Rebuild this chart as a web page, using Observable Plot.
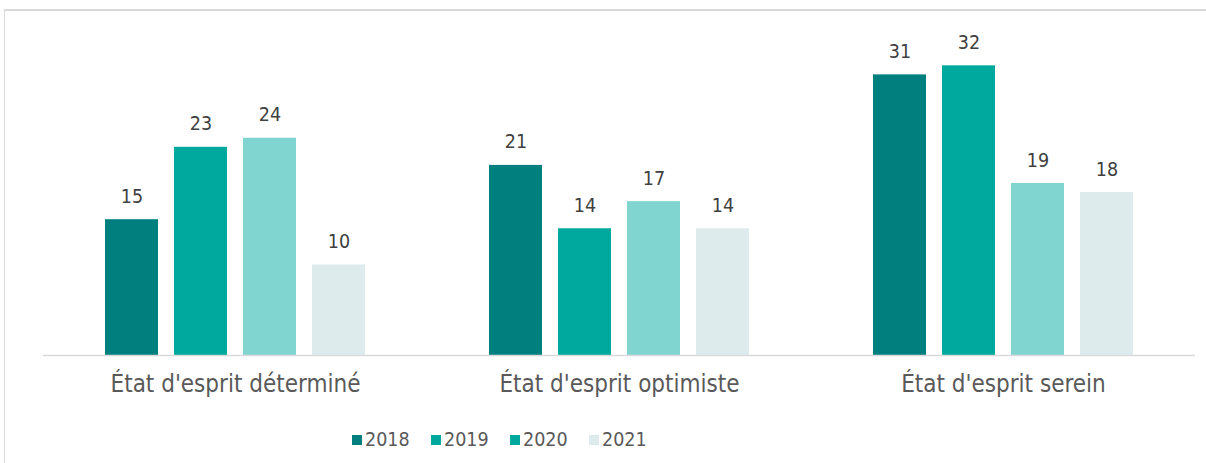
<!DOCTYPE html>
<html>
<head>
<meta charset="utf-8">
<script src="https://cdn.jsdelivr.net/npm/d3@7"></script>
<script src="https://cdn.jsdelivr.net/npm/@observablehq/plot@0.6"></script>
<style>
  html, body { margin: 0; padding: 0; background: #fff; width: 1206px; height: 463px; overflow: hidden; }
  #frame { position: absolute; left: 4px; top: 9px; width: 1220px; height: 470px; border-top: 2px solid #d9d9d9; border-left: 1px solid #d9d9d9; box-sizing: border-box; }
  #chart { position: absolute; left: 0; top: 0; }
  #legend { position: absolute; top: 428px; left: 352px; display: flex; font-family: "DejaVu Sans Condensed", "DejaVu Sans", sans-serif; font-stretch: condensed; font-size: 19.5px; color: #595959; }
  .item { display: flex; align-items: center; width: 79px; }
  .sw { width: 10px; height: 10px; margin-right: 3px; }
</style>
</head>
<body>
<div id="frame"></div>
<div id="chart"></div>
<div id="legend"></div>
<script>
const categories = ["État d'esprit déterminé", "État d'esprit optimiste", "État d'esprit serein"];
const years = ["2018", "2019", "2020", "2021"];
const values2018 = [15, 21, 31];
const values2019 = [23, 14, 32];
const values2020 = [24, 17, 19];
const values2021 = [10, 14, 18];
const barColors = ["#007f7f", "#00a99d", "#80d5d0", "#ddebec"];
const legendColors = ["#007f7f", "#00a99d", "#00a99d", "#ddebec"];

const series = [values2018, values2019, values2020, values2021];
const data = [];
categories.forEach((c, i) => {
  years.forEach((y, j) => data.push({category: c, year: y, value: series[j][i]}));
});

const chart = Plot.plot({
  width: 1206,
  height: 415,
  marginLeft: 42,
  marginRight: 11,
  marginTop: 11,
  marginBottom: 60,
  style: {fontFamily: "'DejaVu Sans Condensed', 'DejaVu Sans', sans-serif", fontStretch: "condensed", background: "transparent"},
  fx: {domain: categories, padding: 0, label: null},
  x: {domain: years, paddingInner: 0.23, paddingOuter: 0.86, axis: null},
  y: {domain: [0, 38], axis: null},
  color: {domain: years, range: barColors},
  marks: [
    Plot.barY(data, {fx: "category", x: "year", y: "value", fill: "year"}),
    Plot.ruleY([0], {stroke: "#d9d9d9", strokeWidth: 1.5}),
    Plot.text(data, {fx: "category", x: "year", y: "value", text: d => String(d.value), lineAnchor: "bottom", dy: -17, fontSize: 19.5, fill: "#404040"}),
    Plot.axisFx({anchor: "bottom", tickSize: 0, tickPadding: 19, fontSize: 24, color: "#595959", label: null})
  ]
});
document.getElementById("chart").appendChild(chart);

const legend = document.getElementById("legend");
years.forEach((y, i) => {
  const item = document.createElement("div");
  item.className = "item";
  const sw = document.createElement("div");
  sw.className = "sw";
  sw.style.background = legendColors[i];
  const t = document.createElement("span");
  t.textContent = y;
  item.appendChild(sw);
  item.appendChild(t);
  legend.appendChild(item);
});
</script>
</body>
</html>
